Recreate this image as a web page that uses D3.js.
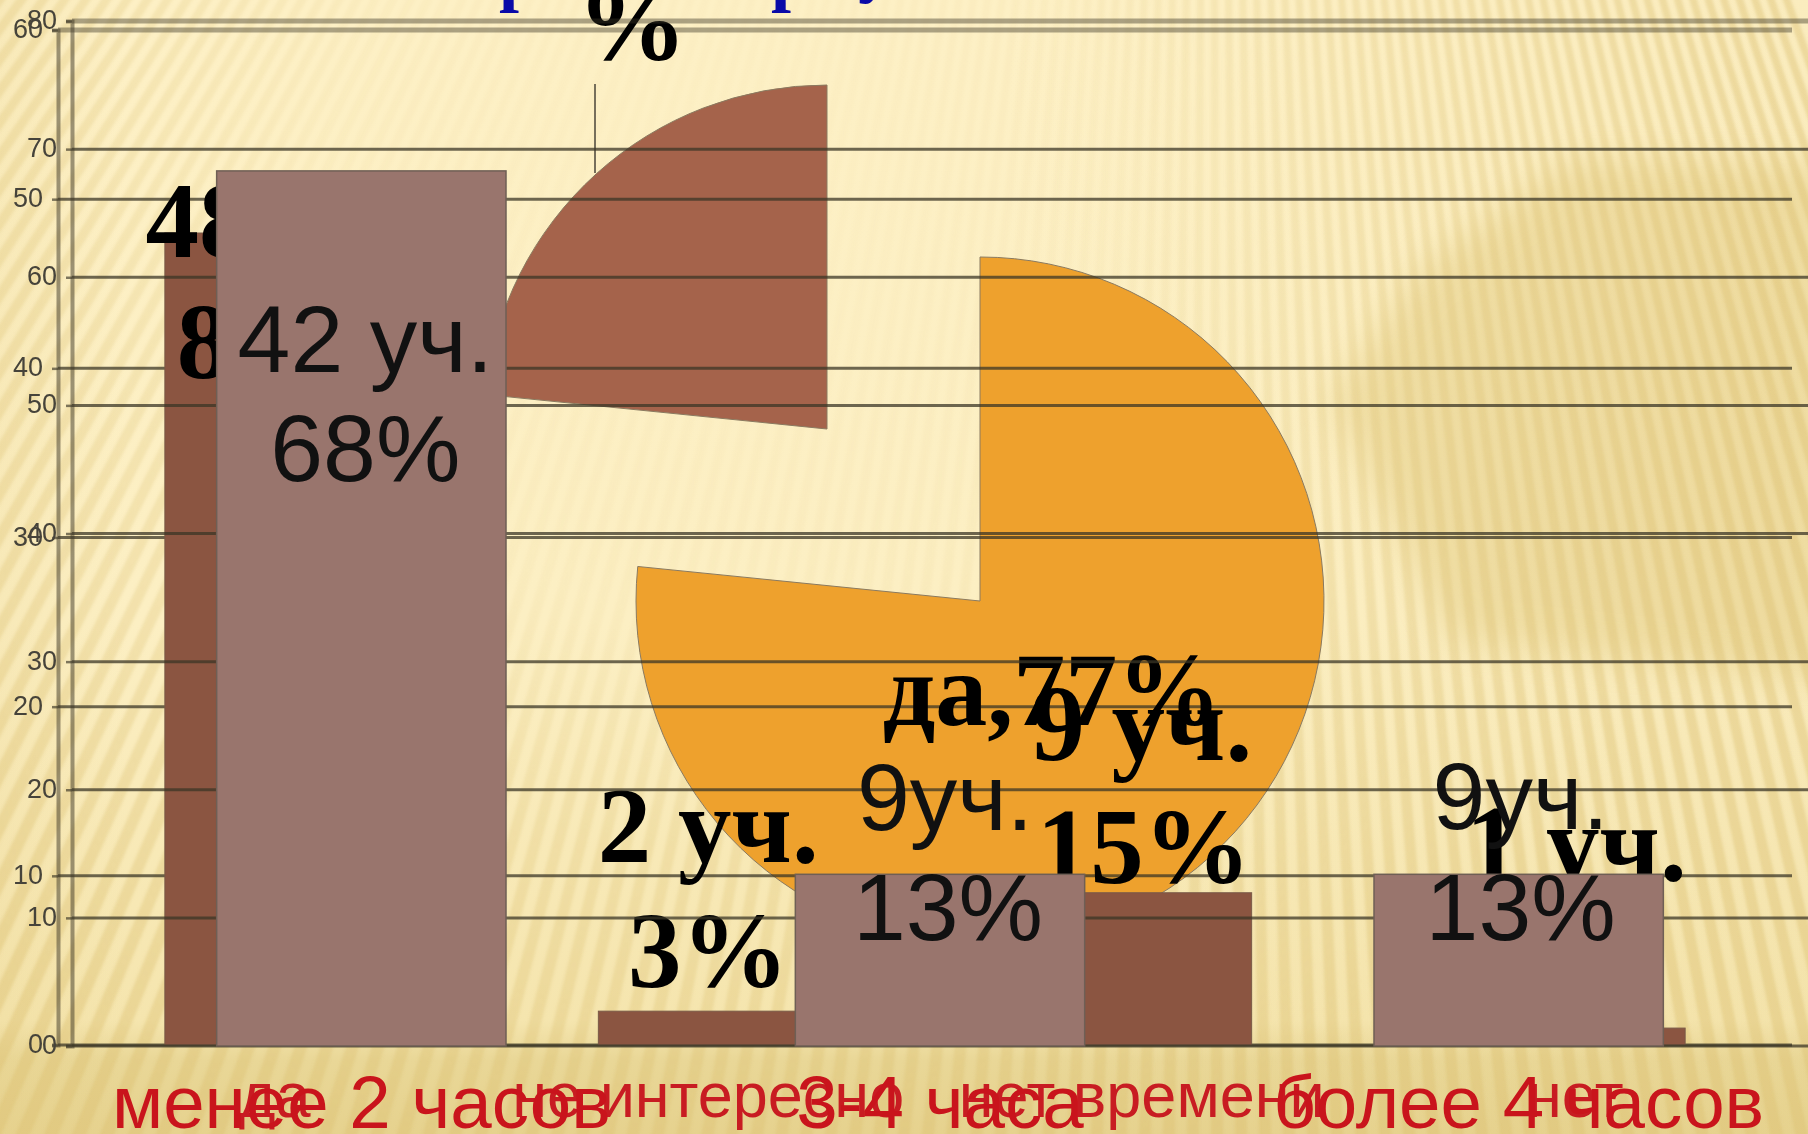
<!DOCTYPE html>
<html lang="ru">
<head>
<meta charset="utf-8">
<title>Диаграмма</title>
<script src="https://cdn.jsdelivr.net/npm/d3@7"></script>
<style>
html,body{margin:0;padding:0;background:#fdf0c5;overflow:hidden}
svg{display:block;filter:blur(.6px)}
.sans{font-family:"Liberation Sans",Arial,sans-serif}
.serif{font-family:"Liberation Serif","Times New Roman",serif;font-weight:700}
</style>
</head>
<body>
<svg id="c" width="1808" height="1134" viewBox="0 0 1808 1134"></svg>
<script>
// ---- data ----
const backCategories = ["да", "не интересно", "нет времени", "нет"];
const backValues = [48, 2, 9, 1];
const backLabels = [["48 уч.", "80%"], ["2 уч.", "3%"], ["9 уч.", "15%"], ["1 уч.", "2%"]];
const backTicks = [0, 10, 20, 30, 40, 50, 60];

const frontCategories = ["менее 2 часов", "3-4 часа", "более 4 часов"];
const frontValues = [68.3, 13.4, 13.4];
const frontLabels = [["42 уч.", "68%"], ["9уч.", "13%"], ["9уч.", "13%"]];
const frontTicks = [0, 10, 20, 30, 40, 50, 60, 70, 80];

const pieNames = ["да", "нет"];
const pieShares = [76.6, 23.4];
const pieLabel = "да, 77%";

// ---- layout ----
const W = 1808, H = 1134;
const svg = d3.select("#c");
const defs = svg.append("defs");

const yBack = d3.scaleLinear().domain([0, 60]).range([1045, 30]);
const xBack = d3.scaleBand().domain(backCategories).range([58, 1792]).paddingInner(0.493).paddingOuter(0.2465);
const yFront = d3.scaleLinear().domain([0, 80]).range([1046, 21]);
const xFront = d3.scaleBand().domain(frontCategories).range([72, 1808]).paddingInner(0.5).paddingOuter(0.25);

// ---- background ----
const bgGrad = defs.append("linearGradient").attr("id", "bg").attr("x1", 0).attr("x2", 0).attr("y1", 0).attr("y2", 1);
[[0, "#fdf0c5"], [0.55, "#fcefc3"], [0.9, "#f5e5ae"], [0.935, "#e9d797"], [1, "#e6d28e"]]
  .forEach(([o, c]) => bgGrad.append("stop").attr("offset", o).attr("stop-color", c));
svg.append("rect").attr("width", W).attr("height", H).attr("fill", "url(#bg)");

const sideGrad = defs.append("linearGradient").attr("id", "side");
[[0, 0.2], [0.07, 0], [0.55, 0], [1, 0.12]].forEach(([o, a]) =>
  sideGrad.append("stop").attr("offset", o).attr("stop-color", "#e6d08a").attr("stop-opacity", a));
svg.append("rect").attr("width", W).attr("height", H).attr("fill", "url(#side)");

defs.append("filter").attr("id", "soft").attr("x", "-30%").attr("y", "-30%").attr("width", "160%").attr("height", "160%")
  .append("feGaussianBlur").attr("stdDeviation", 18);
svg.append("path").attr("d", "M1830,165 L1570,160 L1420,270 L1330,400 L1450,640 L1830,680 Z")
  .attr("fill", "#dfc678").attr("opacity", 0.42).attr("filter", "url(#soft)");

defs.append("filter").attr("id", "stripeBlur").attr("x", "-5%").attr("y", "-5%").attr("width", "110%").attr("height", "110%")
  .append("feGaussianBlur").attr("stdDeviation", 1.6);
const maskGrad = defs.append("radialGradient").attr("id", "fade").attr("gradientUnits", "userSpaceOnUse")
  .attr("cx", 720).attr("cy", 220).attr("r", 1050);
[[0, 0.02], [0.38, 0.14], [0.6, 0.5], [0.85, 0.72], [1, 0.85]].forEach(([o, a]) =>
  maskGrad.append("stop").attr("offset", o).attr("stop-color", "#fff").attr("stop-opacity", a));
defs.append("mask").attr("id", "fadeMask").attr("maskUnits", "userSpaceOnUse")
  .attr("x", 0).attr("y", 0).attr("width", W).attr("height", H)
  .append("rect").attr("width", W).attr("height", H).attr("fill", "url(#fade)");

const apex = [1211, -1615], stripeLen = 5000, stripeStep = 0.5 * Math.PI / 180;
svg.append("g").attr("mask", "url(#fadeMask)").append("g").attr("filter", "url(#stripeBlur)").selectAll("path")
  .data(d3.range(-76, 40))
  .join("path")
  .attr("d", i => {
    const a0 = i * stripeStep, a1 = (i + 0.5) * stripeStep;
    return `M${apex[0]},${apex[1]}L${apex[0] + stripeLen * Math.sin(a0)},${apex[1] + stripeLen * Math.cos(a0)}L${apex[0] + stripeLen * Math.sin(a1)},${apex[1] + stripeLen * Math.cos(a1)}Z`;
  })
  .attr("fill", "#dcc072").attr("opacity", 0.5);

// ---- clipped blue title remnants at the very top ----
svg.append("g").attr("class", "serif").attr("fill", "#0a0aa8").attr("font-size", 72)
  .selectAll("text").data([["р", 499, -2], ["р", 771, -2], ["у", 858, -11]]).join("text")
  .attr("x", d => d[1]).attr("y", d => d[2]).text(d => d[0]);

// ---- pie ----
const pieData = d3.pie().sort(null).startAngle(0).endAngle(2 * Math.PI)(pieShares);
const arc = d3.arc().innerRadius(0).outerRadius(344);
const pieCentres = [[980, 601], [827, 429]];
const pieFills = ["#eea12d", "#a5634b"];
svg.append("g").selectAll("path").data(pieData).join("path")
  .attr("transform", (d, i) => `translate(${pieCentres[i]})`)
  .attr("d", arc)
  .attr("fill", (d, i) => pieFills[i])
  .attr("stroke", "#8a7a60").attr("stroke-width", 1);
svg.append("line").attr("x1", 595).attr("x2", 595).attr("y1", 84).attr("y2", 173)
  .attr("stroke", "#4a4438").attr("stroke-width", 1.5);

const LINE = "#3b3626";
function drawAxis(y, ticks, x0, x1, labelGap) {
  const g = svg.append("g").attr("transform", `translate(${x0},0)`)
    .call(d3.axisLeft(y).tickValues(ticks).tickFormat(d3.format("d")).tickSize(6).tickPadding(labelGap));
  g.selectAll(".domain").attr("stroke", LINE).attr("stroke-width", 4).attr("opacity", .5);
  g.selectAll(".tick line").attr("stroke", LINE).attr("stroke-width", 2.5).attr("opacity", .65);
  g.selectAll(".tick text").attr("class", "sans").attr("font-size", 27).attr("fill", "#46433a").attr("font-family", null)
    .attr("dy", "0.28em");
  svg.append("g").selectAll("line").data(ticks).join("line")
    .attr("x1", x0).attr("x2", x1).attr("y1", y).attr("y2", y)
    .attr("stroke", LINE)
    .attr("stroke-width", d => d === ticks[ticks.length - 1] ? 5 : 3)
    .attr("opacity", d => d === ticks[ticks.length - 1] ? .42 : .74);
}
function drawLabels(rows, x, cls, size, fill, places) {
  const g = svg.append("g").attr("class", cls).attr("font-size", size).attr("fill", fill).attr("text-anchor", "middle");
  rows.forEach((r, i) => r.forEach((t, j) => {
    g.append("text").attr("x", x[i] + places[i][j][0]).attr("y", places[i][j][1]).text(t);
  }));
}

// ---- back chart: counts ----
drawAxis(yBack, backTicks, 58, 1792, 9);
svg.append("g").selectAll("rect").data(backValues).join("rect")
  .attr("x", (d, i) => xBack(backCategories[i]))
  .attr("width", xBack.bandwidth())
  .attr("y", d => yBack(d))
  .attr("height", d => yBack(0) - yBack(d))
  .attr("fill", "#8b5541").attr("stroke", "#7a5a48").attr("stroke-width", 1);
drawLabels(backLabels, backCategories.map(c => xBack(c) + xBack.bandwidth() / 2), "serif", 107, "#000",
  [[[8, 257], [9, 378]], [[0, 862], [0, 987]], [[0, 760], [2, 883]], [[1, 880], [0, 1000]]]);
svg.append("text").attr("class", "serif").attr("font-size", 104).attr("x", 1052).attr("y", 725)
  .attr("text-anchor", "middle").attr("fill", "#000").attr("word-spacing", "-26px").text(pieLabel);
svg.append("text").attr("class", "serif").attr("font-size", 110).attr("x", 577).attr("y", 60)
  .attr("fill", "#000").text("%");
svg.append("g").attr("class", "sans").attr("font-size", 63).attr("fill", "#c81c22").attr("text-anchor", "middle")
  .selectAll("text").data(backCategories).join("text")
  .attr("x", d => xBack(d) + xBack.bandwidth() / 2).attr("y", 1117).text(d => d);

// ---- front chart: percentages ----
drawAxis(yFront, frontTicks, 72, 1808, 9);
svg.append("g").selectAll("rect").data(frontValues).join("rect")
  .attr("x", (d, i) => xFront(frontCategories[i]))
  .attr("width", xFront.bandwidth())
  .attr("y", d => yFront(d))
  .attr("height", d => yFront(0) - yFront(d))
  .attr("fill", "#99756d").attr("stroke", "#6f5f55").attr("stroke-width", 1.5);
drawLabels(frontLabels, frontCategories.map(c => xFront(c) + xFront.bandwidth() / 2), "sans", 95, "#111",
  [[[4, 372], [4, 481]], [[5, 830], [8, 940]], [[2, 829], [2, 940]]]);
svg.append("g").attr("class", "sans").attr("font-size", 74.5).attr("fill", "#c9141c").attr("text-anchor", "middle")
  .selectAll("text").data(frontCategories).join("text")
  .attr("x", d => xFront(d) + xFront.bandwidth() / 2).attr("y", 1128).text(d => d);
</script>
</body>
</html>
